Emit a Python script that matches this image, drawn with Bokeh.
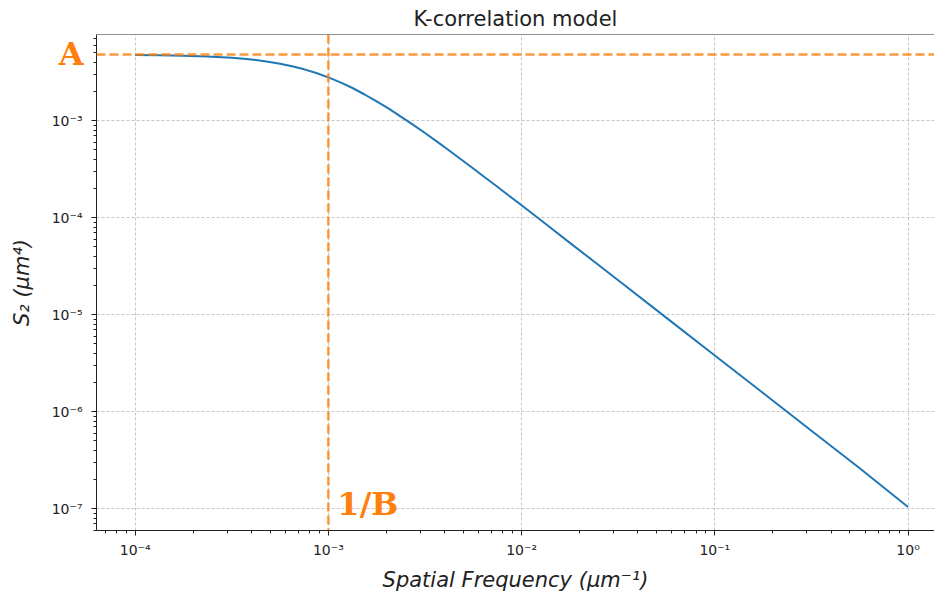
from bokeh.plotting import figure
from bokeh.models import Span, Label, FixedTicker, CustomJSTickFormatter, Range1d
from bokeh.core.properties import value
from bokeh.embed import file_html
from bokeh.resources import INLINE

# K-correlation power spectral density S2(f)
freq = [1.0e-4, 1.33e-4, 1.78e-4, 2.37e-4, 3.16e-4, 3.65e-4, 4.22e-4, 4.87e-4, 5.62e-4,
        6.49e-4, 7.50e-4, 8.66e-4, 1.0e-3, 1.155e-3, 1.334e-3, 1.54e-3, 1.778e-3, 2.054e-3,
        2.371e-3, 2.738e-3, 3.162e-3, 3.652e-3, 4.217e-3, 4.87e-3, 5.623e-3, 6.494e-3,
        7.499e-3, 1.0e-2, 1.334e-2, 1.778e-2, 2.371e-2, 3.162e-2, 5.623e-2, 1.0e-1,
        1.778e-1, 3.162e-1, 5.623e-1, 1.0]
psd = [4.74e-3, 4.72e-3, 4.67e-3, 4.58e-3, 4.44e-3, 4.34e-3, 4.21e-3, 4.05e-3, 3.86e-3,
       3.64e-3, 3.38e-3, 3.10e-3, 2.79e-3, 2.48e-3, 2.17e-3, 1.86e-3, 1.58e-3, 1.33e-3,
       1.10e-3, 9.10e-4, 7.45e-4, 6.07e-4, 4.92e-4, 3.98e-4, 3.21e-4, 2.58e-4,
       2.08e-4, 1.34e-4, 8.59e-5, 5.50e-5, 3.53e-5, 2.26e-5, 9.26e-6, 3.80e-6,
       1.56e-6, 6.37e-7, 2.61e-7, 1.04e-7]

# model parameters marked on the chart
A_LEVEL = 4.8e-3      # low-frequency plateau A
KNEE_FREQ = 1.0e-3    # corner frequency 1/B

x_ticks = [1e-4, 1e-3, 1e-2, 1e-1, 1.0]
x_tick_labels = ["10⁻⁴", "10⁻³", "10⁻²", "10⁻¹", "10⁰"]
y_ticks = [1e-7, 1e-6, 1e-5, 1e-4, 1e-3]
y_tick_labels = ["10⁻⁷", "10⁻⁶", "10⁻⁵", "10⁻⁴", "10⁻³"]

X_START, X_END = 10 ** -4.2, 10 ** 0.137
Y_START, Y_END = 10 ** -7.225, 10 ** -2.112

ORANGE = "#ff7f0e"
BLUE = "#1f77b4"
INK = "#222222"

p = figure(
    width=934, height=596,
    x_axis_type="log", y_axis_type="log",
    x_range=Range1d(X_START, X_END), y_range=Range1d(Y_START, Y_END),
    title="K-correlation model",
    output_backend="svg", toolbar_location=None,
    min_border_left=96, min_border_right=0, min_border_top=33, min_border_bottom=66,
)
p.outline_line_color = None
p.background_fill_color = "white"
p.border_fill_color = "white"

p.title.align = "center"
p.title.text_font = "DejaVu Sans"
p.title.text_font_size = "21px"
p.title.text_font_style = "normal"
p.title.text_color = INK
p.title.standoff = 8


def minor_ticks(lo_exp, hi_exp):
    return [m * 10.0 ** e for e in range(lo_exp, hi_exp) for m in range(2, 10)]


def label_formatter(tick_values, tick_labels):
    return CustomJSTickFormatter(
        args=dict(vals=tick_values, labs=tick_labels),
        code="""
        const i = vals.findIndex(t => Math.abs(Math.log10(t) - Math.log10(tick)) < 1e-6);
        return i >= 0 ? labs[i] : "";
        """,
    )


p.xaxis.ticker = FixedTicker(ticks=x_ticks, minor_ticks=minor_ticks(-5, 1))
p.yaxis.ticker = FixedTicker(ticks=y_ticks, minor_ticks=minor_ticks(-8, -2))
p.xaxis.formatter = label_formatter(x_ticks, x_tick_labels)
p.yaxis.formatter = label_formatter(y_ticks, y_tick_labels)

for ax in (p.xaxis, p.yaxis):
    ax.axis_line_color = INK
    ax.axis_line_width = 1
    ax.major_tick_line_color = INK
    ax.minor_tick_line_color = INK
    ax.major_tick_in = 0
    ax.major_tick_out = 5
    ax.minor_tick_in = 0
    ax.minor_tick_out = 3
    ax.major_label_text_font = "DejaVu Sans"
    ax.major_label_text_font_size = "14px"
    ax.major_label_text_color = INK
    ax.axis_label_text_font = "DejaVu Sans"
    ax.axis_label_text_font_size = "21px"
    ax.axis_label_text_font_style = "italic"
    ax.axis_label_text_color = INK

p.xaxis.axis_label = "Spatial Frequency (μm⁻¹)"
p.yaxis.axis_label = "S₂ (μm⁴)"
p.xaxis.major_label_standoff = 6
p.xaxis.axis_label_standoff = 7
p.yaxis.major_label_standoff = 9
p.yaxis.axis_label_standoff = 15

for g in (p.xgrid, p.ygrid):
    g.grid_line_color = "#b8b8b8"
    g.grid_line_width = 0.8
    g.grid_line_dash = "3 2"
    g.minor_grid_line_color = None

# top spine
p.add_layout(Span(location=Y_END, dimension="width", line_color=INK, line_width=1))

# curve
p.line(freq, psd, line_color=BLUE, line_width=2)

# parameter markers
p.add_layout(Span(location=A_LEVEL, dimension="width", line_color=ORANGE, line_alpha=0.8,
                  line_width=2.5, line_dash="9 4"))
p.add_layout(Span(location=KNEE_FREQ, dimension="height", line_color=ORANGE, line_alpha=0.8,
                  line_width=2.5, line_dash="9 4"))

# "A" sits left of the frame, so it is drawn on the overlay level (not clipped)
p.text(x=[X_START], y=[A_LEVEL], text=["A"], x_offset=-13, y_offset=-1,
       text_align="right", text_baseline="middle",
       text_font=value("DejaVu Serif"), text_font_style="bold",
       text_font_size="32px", text_color=ORANGE, level="overlay")
p.add_layout(Label(x=KNEE_FREQ, y=y_ticks[0], x_offset=9, y_offset=5, text="1/B",
                   text_align="left", text_baseline="middle",
                   text_font="DejaVu Serif", text_font_style="bold",
                   text_font_size="32px", text_color=ORANGE))

open("out.html", "w").write(file_html(p, INLINE))
